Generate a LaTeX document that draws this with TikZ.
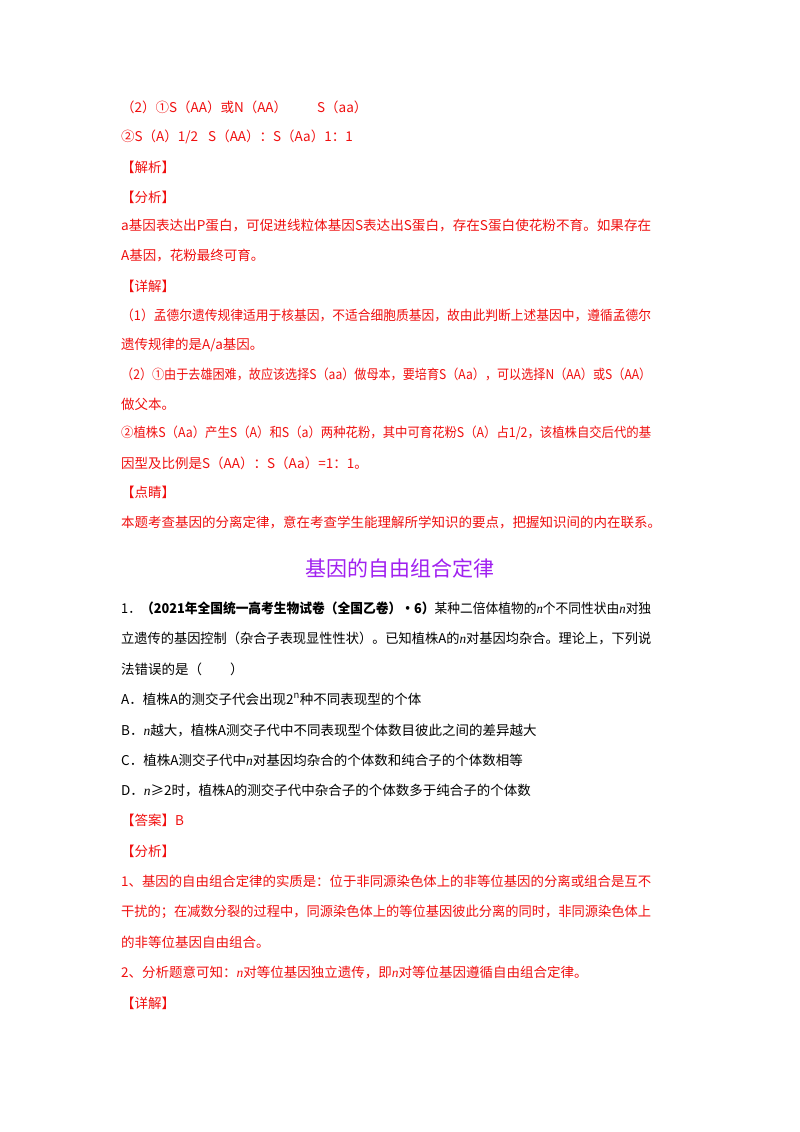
\documentclass[tikz,border=0pt]{standalone}
\usepackage{fontspec}
\usepackage{graphicx}
\setmainfont{Liberation Serif}
\newfontfamily\cjk{Noto Sans CJK SC}
\definecolor{rd}{HTML}{F01010}
\definecolor{pu}{HTML}{A020F0}
\newcommand{\vn}{{\rmfamily\itshape n}}
\newcommand{\fw}[1]{\resizebox{530pt}{\height}{#1}}
\begin{document}
\begin{tikzpicture}[x=1pt,y=-1pt,
  ln/.style={anchor=west,inner sep=0pt,font=\cjk\fontsize{13.5}{14}\selectfont},
  r/.style={ln,text=rd},
  k/.style={ln,text=black}]
\useasboundingbox[fill=white] (0,0) rectangle (800,1132);
\node[r] (l1) at (121,107) {（2）①S（AA）或N（AA）\hspace{30pt}S（aa）};
\node[r] (l2) at (121,137) {②S（A）1/2\hspace{10pt}S（AA）：S（Aa）1：1};
\node[r] (l3) at (121,167) {【解析】};
\node[r] (l4) at (121,197) {【分析】};
\node[r] (l5) at (121,226) {\fw{a基因表达出P蛋白，可促进线粒体基因S表达出S蛋白，存在S蛋白使花粉不育。如果存在}};
\node[r] (l6) at (121,256) {A基因，花粉最终可育。};
\node[r] (l7) at (121,286) {【详解】};
\node[r] (l8) at (121,315) {\fw{（1）孟德尔遗传规律适用于核基因，不适合细胞质基因，故由此判断上述基因中，遵循孟德尔}};
\node[r] (l9) at (121,345) {遗传规律的是A/a基因。};
\node[r] (l10) at (121,374) {\fw{（2）①由于去雄困难，故应该选择S（aa）做母本，要培育S（Aa），可以选择N（AA）或S（AA）}};
\node[r] (l11) at (121,404) {做父本。};
\node[r] (l12) at (121,433) {\fw{②植株S（Aa）产生S（A）和S（a）两种花粉，其中可育花粉S（A）占1/2，该植株自交后代的基}};
\node[r] (l13) at (121,463) {因型及比例是S（AA）：S（Aa）=1：1。};
\node[r] (l14) at (121,492) {【点睛】};
\node[r] (l15) at (121,522) {本题考查基因的分离定律，意在考查学生能理解所学知识的要点，把握知识间的内在联系。};
\node[inner sep=0pt,text=pu,font=\cjk\fontsize{21}{22}\selectfont] (t) at (400,568) {基因的自由组合定律};
\node[k] (q1) at (121,608) {\fw{1．\textbf{（2021年全国统一高考生物试卷（全国乙卷）·6）}某种二倍体植物的\vn 个不同性状由\vn 对独}};
\node[k] (q2) at (121,638) {\fw{立遗传的基因控制（杂合子表现显性性状）。已知植株A的\vn 对基因均杂合。理论上，下列说}};
\node[k] (q3) at (121,669) {法错误的是（\hspace{28pt}）};
\node[k] (qa) at (121,699) {A．植株A的测交子代会出现2\textsuperscript{n}种不同表现型的个体};
\node[k] (qb) at (121,730) {B．\vn 越大，植株A测交子代中不同表现型个体数目彼此之间的差异越大};
\node[k] (qc) at (121,760) {C．植株A测交子代中\vn 对基因均杂合的个体数和纯合子的个体数相等};
\node[k] (qd) at (121,790) {D．\vn≥2时，植株A的测交子代中杂合子的个体数多于纯合子的个体数};
\node[r] (an) at (121,820) {【答案】B};
\node[r] (f) at (121,851) {【分析】};
\node[r] (f1) at (121,881) {\fw{1、基因的自由组合定律的实质是：位于非同源染色体上的非等位基因的分离或组合是互不}};
\node[r] (f2) at (121,912) {\fw{干扰的；在减数分裂的过程中，同源染色体上的等位基因彼此分离的同时，非同源染色体上}};
\node[r] (f3) at (121,942) {的非等位基因自由组合。};
\node[r] (f4) at (121,972) {2、分析题意可知：\vn 对等位基因独立遗传，即\vn 对等位基因遵循自由组合定律。};
\node[r] (xj) at (121,1003) {【详解】};
\end{tikzpicture}
\end{document}
